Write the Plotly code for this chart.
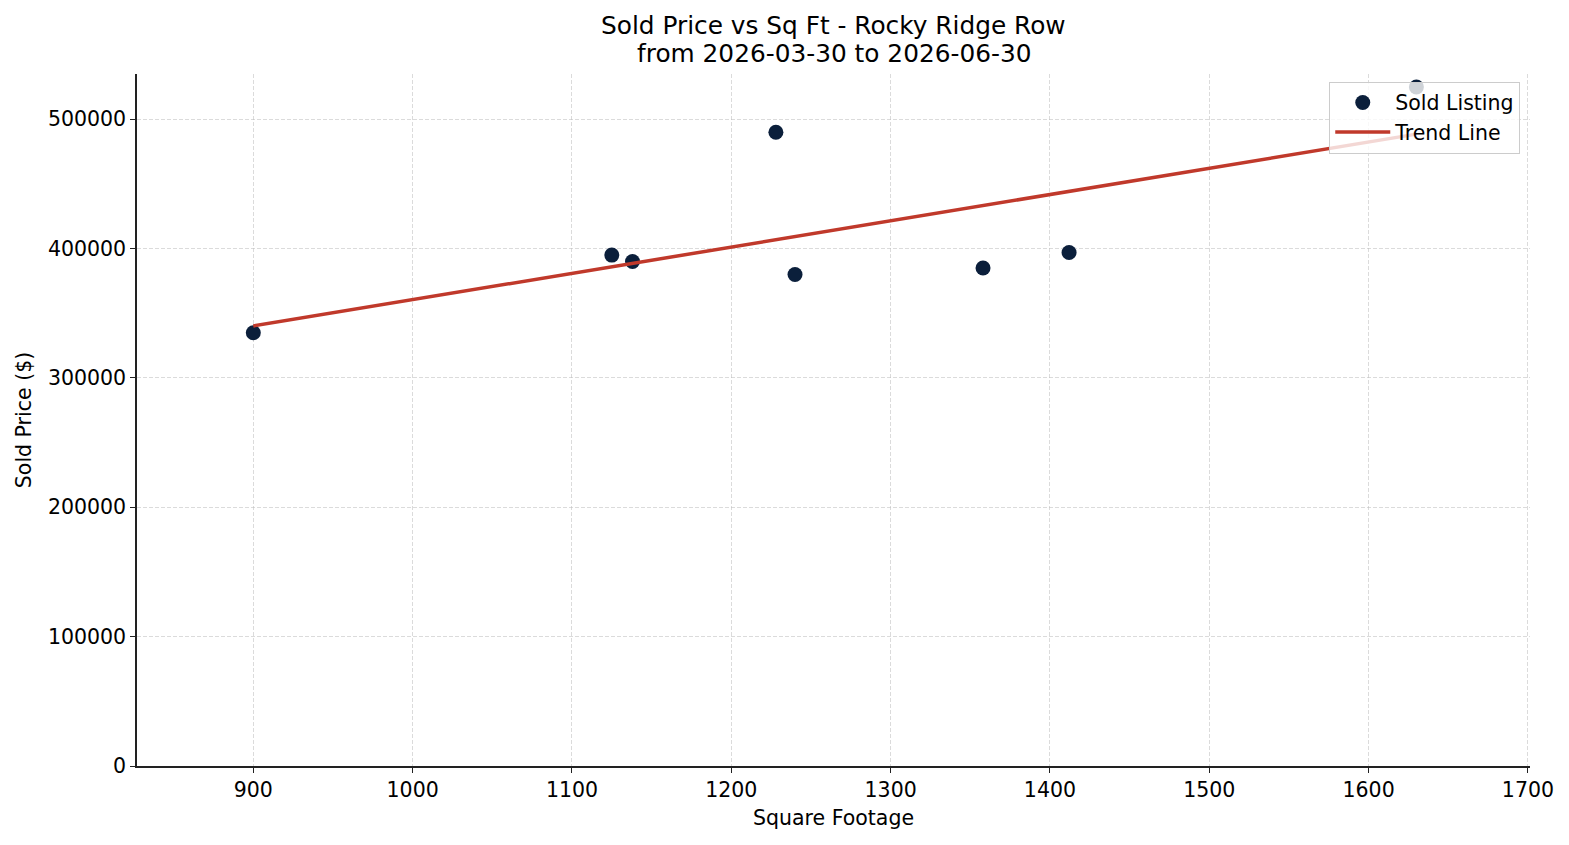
import numpy as np
import plotly.graph_objects as go

sqft = [900, 1125, 1138, 1228, 1240, 1358, 1412, 1630]
price = [335000, 395000, 390000, 490000, 380000, 385000, 397000, 525000]
x_ticks = [900, 1000, 1100, 1200, 1300, 1400, 1500, 1600, 1700]
y_ticks = [0, 100000, 200000, 300000, 400000, 500000]
title_lines = ["Sold Price vs Sq Ft - Rocky Ridge Row", "from 2026-03-30 to 2026-06-30"]

slope, intercept = np.polyfit(sqft, price, 1)
trend_x = sorted(sqft)
trend_y = [slope * v + intercept for v in trend_x]

FONT = "DejaVu Sans"
FS = 20.5
fig = go.Figure()
fig.add_trace(go.Scatter(
    x=sqft, y=price, mode="markers", name="Sold Listing",
    marker=dict(size=15, color="#0b1f3b", line=dict(width=0)),
))
fig.add_trace(go.Scatter(
    x=trend_x, y=trend_y, mode="lines", name="Trend Line",
    line=dict(color="#c0392b", width=3.5),
))

fig.update_layout(
    width=1569, height=845,
    margin=dict(l=137, r=39, t=74, b=79),
    paper_bgcolor="white", plot_bgcolor="white",
    font=dict(family=FONT, size=FS, color="black"),
    showlegend=True,
    legend=dict(
        x=0.993, xanchor="right", y=0.989, yanchor="top",
        bgcolor="rgba(255,255,255,0.8)", bordercolor="#cccccc", borderwidth=1,
        font=dict(family=FONT, size=FS, color="black"),
        tracegroupgap=0, itemwidth=55,
    ),
)
for i, (line, ypx) in enumerate(zip(title_lines, [25, 53])):
    fig.add_annotation(
        text=line, xref="paper", yref="paper", x=0.5, y=(766 - ypx) / 692,
        xanchor="center", yanchor="middle", showarrow=False,
        font=dict(family=FONT, size=24.8, color="black"),
    )
grid = dict(showgrid=True, gridcolor="rgba(190,190,190,0.55)", griddash="4px,2px", gridwidth=0.8)
fig.update_xaxes(
    range=[827, 1701.3], tickvals=x_ticks, ticktext=[str(v) for v in x_ticks],
    showline=True, linecolor="#222222", linewidth=1.5, mirror=False,
    ticks="outside", ticklen=5, tickwidth=1.2, tickcolor="#222222",
    zeroline=False, **grid,
    title=dict(text="Square Footage", font=dict(family=FONT, size=FS), standoff=9),
    tickfont=dict(family=FONT, size=FS),
)
fig.update_yaxes(
    range=[0, 535000], tickvals=y_ticks, ticktext=[str(v) for v in y_ticks],
    showline=True, linecolor="#222222", linewidth=1.5, mirror=False,
    ticks="outside", ticklen=5, tickwidth=1.2, tickcolor="#222222",
    zeroline=False, **grid,
    title=dict(text="Sold Price ($)", font=dict(family=FONT, size=FS), standoff=11),
    tickfont=dict(family=FONT, size=FS),
)

fig.write_html("out.html")
